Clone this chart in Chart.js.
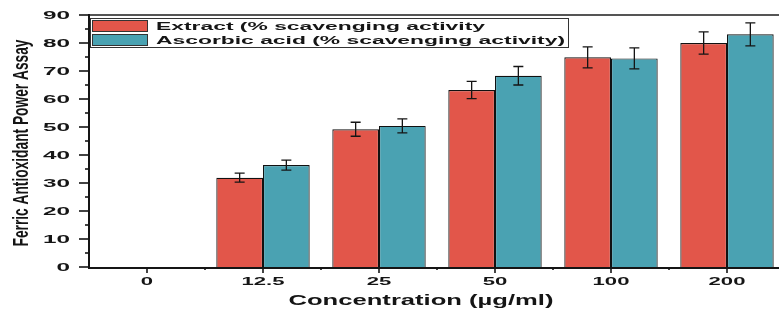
<!DOCTYPE html>
<html>
<head>
<meta charset="utf-8">
<script src="https://cdn.jsdelivr.net/npm/chart.js@4.4.1/dist/chart.umd.min.js"></script>
<style>
  html, body { margin: 0; padding: 0; background: #fff; overflow: hidden; }
  #wrap { width: 779px; height: 309px; overflow: hidden; position: relative; }
  canvas { display: block; }
</style>
</head>
<body>
<div id="wrap"><canvas id="c" width="800" height="309"></canvas></div>
<script>
const categories = ['0', '12.5', '25', '50', '100', '200'];
const extractValues = [0, 31.9, 49.2, 63.2, 74.9, 80.0];
const extractErrors = [0, 1.6, 2.5, 3.1, 3.75, 4.0];
const ascorbicValues = [0, 36.4, 50.4, 68.3, 74.5, 83.1];
const ascorbicErrors = [0, 1.8, 2.5, 3.3, 3.75, 4.1];
const yTickValues = [0, 10, 20, 30, 40, 50, 60, 70, 80, 90];
const seriesNames = ['Extract (% scavenging activity', 'Ascorbic acid (% scavenging activity)'];
const xTitle = 'Concentration (µg/ml)';
const yTitle = 'Ferric Antioxidant Power Assay';

const RED = '#E2564A';
const TEAL = '#4AA2B2';
const INK = '#151515';
const FONT = '"Liberation Sans", Arial, sans-serif';

function stretchText(ctx, text, x, y, font, sx, align, baseline) {
  ctx.save();
  ctx.font = font;
  ctx.translate(x, y);
  ctx.scale(sx, 1);
  ctx.textAlign = align;
  ctx.textBaseline = baseline;
  ctx.fillText(text, 0, 0);
  ctx.restore();
}
function widthOf(ctx, text, font) {
  ctx.save(); ctx.font = font; const w = ctx.measureText(text).width; ctx.restore(); return w;
}

const decor = {
  id: 'decor',
  afterDatasetsDraw(chart) {
    const ctx = chart.ctx;
    const x = chart.scales.x, y = chart.scales.y;
    const area = chart.chartArea;
    ctx.save();
    // error bars
    ctx.strokeStyle = INK;
    ctx.lineWidth = 1.3;
    [[extractValues, extractErrors], [ascorbicValues, ascorbicErrors]].forEach((pair, di) => {
      const meta = chart.getDatasetMeta(di);
      pair[0].forEach((v, i) => {
        const e = pair[1][i];
        if (!e) return;
        const bx = meta.data[i].x;
        const yt = y.getPixelForValue(v + e), yb = y.getPixelForValue(v - e);
        ctx.beginPath();
        ctx.moveTo(bx, yt); ctx.lineTo(bx, yb);
        ctx.moveTo(bx - 5, yt); ctx.lineTo(bx + 5, yt);
        ctx.moveTo(bx - 5, yb); ctx.lineTo(bx + 5, yb);
        ctx.stroke();
      });
    });
    // top frame line
    ctx.strokeStyle = '#555';
    ctx.lineWidth = 2;
    ctx.beginPath(); ctx.moveTo(area.left, area.top); ctx.lineTo(chart.width, area.top); ctx.stroke();
    // axes
    ctx.strokeStyle = INK;
    ctx.lineWidth = 2;
    ctx.beginPath();
    ctx.moveTo(area.left, area.top - 1); ctx.lineTo(area.left, area.bottom + 1);
    ctx.lineTo(chart.width, area.bottom + 1);
    ctx.stroke();
    // y ticks
    ctx.lineWidth = 1.6;
    yTickValues.forEach(v => {
      const py = y.getPixelForValue(v);
      ctx.beginPath(); ctx.moveTo(area.left - 10, py); ctx.lineTo(area.left, py); ctx.stroke();
      if (v < 90) {
        const pm = y.getPixelForValue(v + 5);
        ctx.beginPath(); ctx.moveTo(area.left - 4, pm); ctx.lineTo(area.left, pm); ctx.stroke();
      }
    });
    // x ticks
    categories.forEach((c, i) => {
      const px = x.getPixelForValue(i);
      ctx.beginPath(); ctx.moveTo(px, area.bottom + 1); ctx.lineTo(px, area.bottom + 6); ctx.stroke();
      const pb = px + (x.getPixelForValue(1) - x.getPixelForValue(0)) / 2;
      ctx.beginPath(); ctx.moveTo(pb, area.bottom + 1); ctx.lineTo(pb, area.bottom + 3); ctx.stroke();
    });
    // y tick labels
    ctx.fillStyle = INK;
    const yFont = 'bold 11px ' + FONT;
    const ysx = 27 / widthOf(ctx, '90', yFont);
    yTickValues.forEach(v => {
      stretchText(ctx, String(v), 70, y.getPixelForValue(v) + 0.5, yFont, ysx, 'right', 'middle');
    });
    // x tick labels
    const xFont = 'bold 11px ' + FONT;
    const xsx = 43 / widthOf(ctx, '12.5', xFont);
    categories.forEach((c, i) => {
      stretchText(ctx, c, x.getPixelForValue(i), 281.5, xFont, xsx, 'center', 'middle');
    });
    // x title
    const tFont = 'bold 15px ' + FONT;
    const tsx = 265 / widthOf(ctx, xTitle, tFont);
    stretchText(ctx, xTitle, 421, 300.5, tFont, tsx, 'center', 'middle');
    // y title (rotated, condensed)
    const yt = 'bold 14px ' + FONT;
    const ylen = 207 / widthOf(ctx, yTitle, yt);
    ctx.save();
    ctx.translate(22, 143);
    ctx.rotate(-Math.PI / 2);
    ctx.scale(ylen, 1.55);
    ctx.font = yt;
    ctx.textAlign = 'center';
    ctx.textBaseline = 'middle';
    ctx.fillText(yTitle, 0, 0);
    ctx.restore();
    // legend
    ctx.fillStyle = '#fff';
    ctx.fillRect(91, 18.5, 477, 29);
    ctx.strokeStyle = '#333';
    ctx.lineWidth = 1;
    ctx.strokeRect(90.5, 18.5, 478, 29);
    const lFont = 'bold 11px ' + FONT;
    const lsx = 409 / widthOf(ctx, seriesNames[1], lFont);
    [[RED, 20.5, 26.5], [TEAL, 34.5, 40.5]].forEach((r, i) => {
      ctx.fillStyle = r[0];
      ctx.fillRect(92.5, r[1], 55, 11);
      ctx.strokeStyle = '#333';
      ctx.strokeRect(92.5, r[1], 55, 11);
      ctx.fillStyle = INK;
      stretchText(ctx, seriesNames[i], 156, r[2], lFont, lsx, 'left', 'middle');
    });
    ctx.restore();
  }
};

new Chart(document.getElementById('c'), {
  type: 'bar',
  data: {
    labels: categories,
    datasets: [
      { label: seriesNames[0], data: extractValues, backgroundColor: RED, borderColor: '#111', borderWidth: 1.2, borderSkipped: 'bottom' },
      { label: seriesNames[1], data: ascorbicValues, backgroundColor: TEAL, borderColor: '#111', borderWidth: 1.2, borderSkipped: 'bottom' }
    ]
  },
  options: {
    responsive: false,
    animation: false,
    events: [],
    layout: { padding: { left: 0, right: 15, top: 15, bottom: 0 } },
    datasets: { bar: { categoryPercentage: 0.805, barPercentage: 1.0 } },
    plugins: { legend: { display: false }, tooltip: { enabled: false }, title: { display: false } },
    scales: {
      x: {
        grid: { display: false }, border: { display: false },
        ticks: { display: false },
        afterFit: s => { s.height = 42; }
      },
      y: {
        min: 0, max: 90,
        grid: { display: false }, border: { display: false },
        ticks: { display: false, stepSize: 10 },
        afterFit: s => { s.width = 89; }
      }
    }
  },
  plugins: [decor]
});
</script>
</body>
</html>
